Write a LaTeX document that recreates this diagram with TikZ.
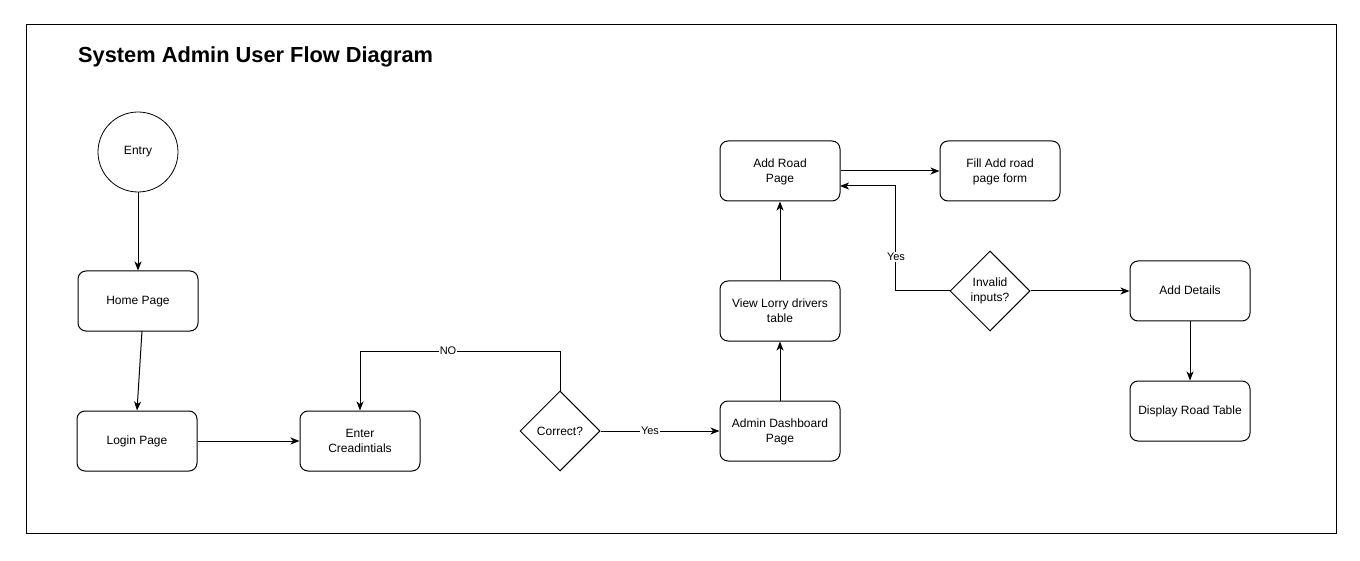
\documentclass[tikz,border=0pt]{standalone}
\usepackage{fontspec}
\setmainfont{Liberation Sans}
\usetikzlibrary{shapes.geometric,arrows.meta}
\begin{document}
\begin{tikzpicture}[x=1pt,y=-1pt,
  every node/.style={font=\fontsize{12}{15}\selectfont},
  box/.style={draw,line width=1pt,rounded corners=8pt,minimum width=120pt,minimum height=60pt,align=center,inner sep=2pt,text depth=1pt},
  dia/.style={draw,line width=1pt,diamond,minimum width=80pt,minimum height=80pt,inner sep=0pt,align=center},
  circ/.style={draw,line width=0.8pt,circle,minimum size=80pt,inner sep=0pt},
  arr/.style={line width=1pt,-{Stealth[length=9pt,width=7pt,inset=2.5pt]}},
  lbl/.style={fill=white,inner sep=1pt,font=\fontsize{11}{13}\selectfont}]
\useasboundingbox (0,0) rectangle (1360,561);
\fill[white] (0,0) rectangle (1360,561);
\draw[line width=0.8pt] (26,24) rectangle (1336,533);
\node[anchor=base west,inner sep=0pt,font=\fontsize{21.8}{26}\selectfont\bfseries] (title) at (78,63) {System Admin User Flow Diagram};

\node[circ] (entry) at (138,152) {Entry};
\node[box] (home) at (138,301) {Home Page};
\node[box] (login) at (137,441) {Login Page};
\node[box] (enter) at (360,441) {Enter\\Creadintials};
\node[dia] (cor) at (560,431) {Correct?};
\node[box] (admin) at (780,431) {Admin Dashboard\\Page};
\node[box] (view) at (780,311) {View Lorry drivers\\table};
\node[box] (road) at (780,171) {Add Road\\Page};
\node[box] (fill) at (1000,171) {Fill Add road\\page form};
\node[dia] (inv) at (990,291) {Invalid\\inputs?};
\node[box] (det) at (1190,291) {Add Details};
\node[box] (disp) at (1190,411) {Display Road Table};

\coordinate (homeout) at (142,331);
\coordinate (roadin) at (840,186);

\draw[arr] (entry) -- (home);
\draw[arr] (homeout) -- (login.north);
\draw[arr] (login) -- (enter);
\draw[arr] (cor.north) -- (560,351) -| (enter.north);
\node[lbl] (no) at (448,351) {NO};
\draw[arr] (cor.east) -- (admin.west);
\node[lbl] (yes1) at (650,431) {Yes};
\draw[arr] (admin) -- (view);
\draw[arr] (view) -- (road);
\draw[arr] (road.east) -- (fill.west);
\draw[arr] (inv.west) -- (895,291) |- (roadin);
\node[lbl] (yes2) at (896,257) {Yes};
\draw[arr] (inv.east) -- (det.west);
\draw[arr] (det) -- (disp);
\end{tikzpicture}
\end{document}
